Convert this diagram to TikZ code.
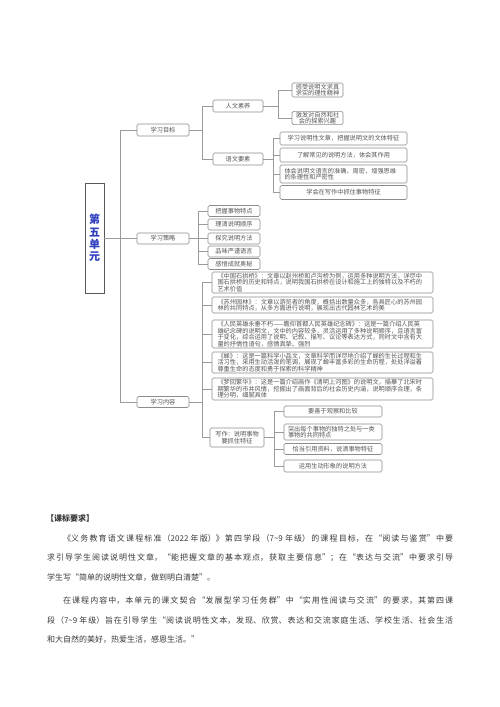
\documentclass[tikz,border=0pt]{standalone}
\usepackage{fontspec}
\newfontfamily\cjk{Noto Sans CJK SC}
\usetikzlibrary{calc}
\definecolor{boxline}{HTML}{8C8C8C}
\definecolor{boxtext}{HTML}{555555}
\definecolor{linkline}{HTML}{9A9A9A}
\definecolor{rootblue}{HTML}{2F3FBF}
\definecolor{bodytext}{HTML}{3A3A3A}
\tikzset{
  mbox/.style={draw=boxline, line width=0.6pt, rounded corners=1.5pt, fill=white,
    text=boxtext, font=\cjk\fontsize{6.2}{6.6}\selectfont, inner sep=0.5pt, align=center},
  rootbox/.style={draw=black!65, line width=0.8pt, fill=white, text=rootblue,
    font=\cjk\bfseries\fontsize{11}{12.3}\selectfont, inner sep=0pt, align=center},
  link/.style={draw=linkline, line width=0.6pt},
  para/.style={anchor=west, inner sep=0pt, text=bodytext, font=\cjk\fontsize{8}{10}\selectfont},
}
\newcommand\jline[2]{\parbox{#1pt}{\XeTeXlinebreaklocale "zh"\XeTeXlinebreakskip=0pt plus 3pt\parfillskip=0pt\relax #2}}
\begin{document}
\begin{tikzpicture}[x=1pt,y=-1pt]
\fill[white] (0,0) rectangle (500,707);
\useasboundingbox (0,0) rectangle (500,707);

% root
\node[rootbox, minimum width=19, minimum height=110] (root) at (94.5,238) {第\\五\\单\\元};

% level 1
\node[mbox, minimum width=52, minimum height=12] (g1) at (163,130) {学习目标};
\node[mbox, minimum width=52, minimum height=11] (g2) at (163,238.5) {学习策略};
\node[mbox, minimum width=52, minimum height=11] (g3) at (163,402) {学习内容};

% goals
\node[mbox, minimum width=50, minimum height=12] (h1) at (238,106) {人文素养};
\node[mbox, minimum width=50, minimum height=12] (h2) at (238,159) {语文要素};
\node[mbox, minimum width=51, minimum height=14] (r1) at (317.5,90) {感受说明文求真\\求实的理性精神};
\node[mbox, minimum width=51, minimum height=13] (r2) at (317.5,118) {激发对自然和社\\会的探索兴趣};
\node[mbox, minimum width=127, minimum height=13] (y1) at (343.5,138.5) {学习说明性文章，把握说明文的文体特征};
\node[mbox, minimum width=127, minimum height=14] (y2) at (343.5,155) {了解常见的说明方法，体会其作用};
\node[mbox, minimum width=127, minimum height=18, text width=118, align=left] (y3) at (343.5,174) {体会说明文语言的准确、周密，增强思维\\的条理性和严密性};
\node[mbox, minimum width=127, minimum height=14] (y4) at (343.5,192.5) {学会在写作中抓住事物特征};

% strategies
\node[mbox, minimum width=52, minimum height=11] (s1) at (234,211) {把握事物特点};
\node[mbox, minimum width=52, minimum height=11] (s2) at (234,224.5) {理清说明顺序};
\node[mbox, minimum width=52, minimum height=11] (s3) at (234,238.5) {探究说明方法};
\node[mbox, minimum width=52, minimum height=11] (s4) at (234,251.5) {品味严谨语言};
\node[mbox, minimum width=52, minimum height=11] (s5) at (234,264) {感悟成就奥秘};

% contents
\tikzset{cbox/.style={mbox, minimum width=221, text width=210, align=left}}
\node[cbox, minimum height=21] (c1) at (322.5,282.5) {《中国石拱桥》：文章以赵州桥和卢沟桥为例，运用多种说明方法，详尽中\\国石拱桥的历史和特点，说明我国石拱桥在设计和施工上的独特以及不朽的\\艺术价值};
\node[cbox, minimum height=16] (c2) at (322.5,305) {《苏州园林》：文章以游览者的角度，概括出数量众多，各具匠心的苏州园\\林的共同特点，从多方面进行说明，展现出古代园林艺术的美};
\node[cbox, minimum height=28] (c3) at (322.5,334) {《人民英雄永垂不朽——瞻仰首都人民英雄纪念碑》：这是一篇介绍人民英\\雄纪念碑的说明文，文中的内容较多，灵活运用了多种说明顺序，且语言富\\于变化，综合运用了说明、记叙、描写、议论等表达方式，同时文中含有大\\量的抒情性语句，感情真挚、强烈};
\node[cbox, minimum height=21] (c4) at (322.5,362.5) {《蝉》：这是一篇科学小品文，文章科学而详尽地介绍了蝉的生长过程和生\\活习性，采用生动活泼的笔调，展现了蝉丰富多彩的生命历程，处处洋溢着\\尊重生命的态度和勇于探索的科学精神};
\node[cbox, minimum height=22] (c5) at (322.5,389) {《梦回繁华》：这是一篇介绍画作《清明上河图》的说明文，描摹了北宋时\\期繁华的市井风情，挖掘出了画面背后的社会历史内涵，说明顺序合理，条\\理分明，细腻具体};
\node[mbox, minimum width=54, minimum height=19] (w) at (237,437.5) {写作：说明事物\\要抓住特征};

% writing
\node[mbox, minimum width=98, minimum height=11] (k1) at (333,411.5) {要善于观察和比较};
\node[mbox, minimum width=98, minimum height=16, text width=90, align=left] (k2) at (333,432) {突出每个事物的独特之处与一类\\事物的共同特点};
\node[mbox, minimum width=98, minimum height=11] (k3) at (333,449) {恰当引用资料，说清事物特征};
\node[mbox, minimum width=98, minimum height=12] (k4) at (333,466) {运用生动形象的说明方法};

% connectors
\coordinate (b0) at ($(root.east)+(16,0)$);
\draw[link] (root.east) -- (b0);
\foreach \n in {g1,g2,g3} \draw[link] (b0) |- (\n.west);

\coordinate (b1) at ($(g1.east)+(13,0)$);
\draw[link] (g1.east) -- (b1);
\foreach \n in {h1,h2} \draw[link] (b1) |- (\n.west);

\coordinate (b11) at ($(h1.east)+(15,0)$);
\draw[link] (h1.east) -- (b11);
\foreach \n in {r1,r2} \draw[link] (b11) |- (\n.west);

\coordinate (b12) at ($(h2.east)+(10,0)$);
\draw[link] (h2.east) -- (b12);
\foreach \n in {y1,y2,y3,y4} \draw[link] (b12) |- (\n.west);

\coordinate (b2) at ($(g2.east)+(9,0)$);
\draw[link] (g2.east) -- (b2);
\foreach \n in {s1,s2,s3,s4,s5} \draw[link] (b2) |- (\n.west);

\coordinate (b3) at ($(g3.east)+(13,0)$);
\draw[link] (g3.east) -- (b3);
\foreach \n in {c1,c2,c3,c4,c5,w} \draw[link] (b3) |- (\n.west);

\coordinate (b4) at ($(w.east)+(10,0)$);
\draw[link] (w.east) -- (b4);
\foreach \n in {k1,k2,k3,k4} \draw[link] (b4) |- (\n.west);

% text
\node[para, font=\cjk\bfseries\fontsize{8}{10}\selectfont] (hd) at (46,518) {【课标要求】};
\node[para] (p1) at (63,538) {\jline{390}{《义务教育语文课程标准（2022 年版）》第四学段（7\textasciitilde 9 年级）的课程目标，在“阅读与鉴赏”中要}};
\node[para] (p2) at (47,558) {\jline{406}{求引导学生阅读说明性文章，“能把握文章的基本观点，获取主要信息”；在“表达与交流”中要求引导}};
\node[para] (p3) at (47,578) {学生写“简单的说明性文章，做到明白清楚”。};
\node[para] (p4) at (63,601) {\jline{390}{在课程内容中，本单元的课文契合“发展型学习任务群”中“实用性阅读与交流”的要求，其第四课}};
\node[para] (p5) at (47,620) {\jline{406}{段（7\textasciitilde 9 年级）旨在引导学生“阅读说明性文本，发现、欣赏、表达和交流家庭生活、学校生活、社会生活}};
\node[para] (p6) at (47,640) {和大自然的美好，热爱生活，感恩生活。”};
\end{tikzpicture}
\end{document}
